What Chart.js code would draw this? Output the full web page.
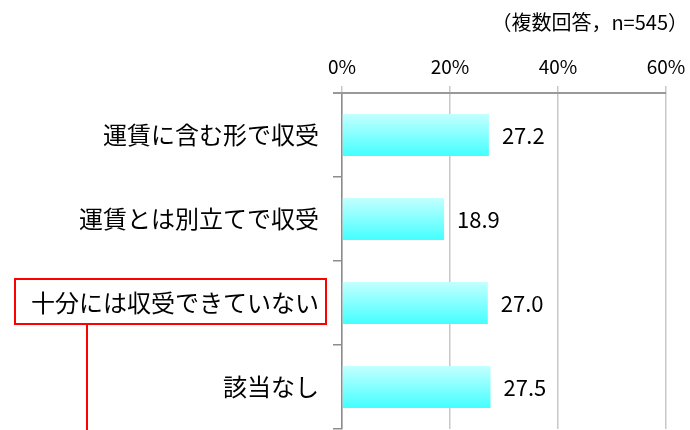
<!DOCTYPE html>
<html>
<head>
<meta charset="utf-8">
<script src="https://cdn.jsdelivr.net/npm/chart.js@4/dist/chart.umd.min.js"></script>
<style>
html,body{margin:0;padding:0;background:#fff;}
#wrap{position:relative;width:690px;height:430px;}
</style>
</head>
<body>
<div id="wrap"><canvas id="c" width="690" height="430"></canvas></div>
<script>
const categories = ['運賃に含む形で収受', '運賃とは別立てで収受', '十分には収受できていない', '該当なし'];
const values = [27.2, 18.9, 27.0, 27.5];
const xTicks = [0, 20, 40, 60];
const note = '（複数回答，n=545）';
const highlightIndex = 2;

const FONT = '"Noto Sans CJK JP", "Noto Sans", sans-serif';
const BAR_PCT = 0.5;

function barGradient(ctx) {
  const chart = ctx.chart;
  const ys = chart.scales.y;
  if (!ys || !chart.chartArea || ctx.dataIndex === undefined) return '#80ffff';
  const c = ys.getPixelForValue(ctx.dataIndex);
  const h = ys.height / categories.length * BAR_PCT;
  const g = chart.ctx.createLinearGradient(0, c - h / 2, 0, c + h / 2);
  g.addColorStop(0, '#c4ffff');
  g.addColorStop(1, '#44ffff');
  return g;
}

const labelPlugin = {
  id: 'vals',
  afterDatasetsDraw(chart) {
    const ctx = chart.ctx;
    ctx.save();
    ctx.font = '22px ' + FONT;
    ctx.fillStyle = '#000';
    ctx.textBaseline = 'middle';
    ctx.textAlign = 'left';
    chart.getDatasetMeta(0).data.forEach((el, i) => {
      ctx.fillText(values[i].toFixed(1), el.x + 13, el.y + 1);
    });
    ctx.restore();
  },
  afterDraw(chart) {
    const ctx = chart.ctx;
    const area = chart.chartArea;
    ctx.save();
    ctx.strokeStyle = '#999999';
    ctx.lineWidth = 2;
    ctx.beginPath();
    ctx.moveTo(Math.round(area.left) - 9, Math.round(area.top));
    ctx.lineTo(Math.round(area.right), Math.round(area.top));
    ctx.stroke();
    ctx.font = '20px ' + FONT;
    ctx.fillStyle = '#000';
    ctx.textAlign = 'right';
    ctx.textBaseline = 'middle';
    ctx.fillText(note, 688, 22);
    const ys = chart.scales.y;
    const cy = ys.getPixelForValue(highlightIndex) - 1.5;
    ctx.strokeStyle = '#ff0000';
    ctx.lineWidth = 2;
    ctx.strokeRect(15, cy - 22.5, 311, 45);
    ctx.beginPath();
    ctx.moveTo(87, cy + 22.5);
    ctx.lineTo(87, 430);
    ctx.stroke();
    ctx.restore();
  }
};

new Chart(document.getElementById('c'), {
  type: 'bar',
  data: {
    labels: categories,
    datasets: [{
      data: values,
      backgroundColor: barGradient,
      borderWidth: 0,
      categoryPercentage: 1.0,
      barPercentage: BAR_PCT
    }]
  },
  options: {
    indexAxis: 'y',
    responsive: false,
    animation: false,
    layout: { padding: { left: 0, right: 24, top: 0, bottom: 1 } },
    plugins: { legend: { display: false }, tooltip: { enabled: false } },
    scales: {
      x: {
        position: 'top',
        min: 0, max: 60,
        afterBuildTicks(scale) { scale.ticks = xTicks.map(v => ({ value: v })); },
        afterFit(scale) { scale.height = 93; scale.paddingLeft = 0; scale.paddingRight = 0; scale.paddingTop = 0; scale.paddingBottom = 0; },
        ticks: {
          callback: v => v + '%',
          font: { family: FONT, size: 19 },
          color: '#000',
          padding: 8,
          maxRotation: 0
        },
        grid: { color: '#c8c8c8', lineWidth: 1.5, tickLength: 7 },
        border: { color: '#a6a6a6', width: 1.5 }
      },
      y: {
        afterFit(scale) { scale.width = 342; scale.paddingTop = 0; scale.paddingBottom = 0; scale.paddingLeft = 0; scale.paddingRight = 0; },
        ticks: {
          font: { family: FONT, size: 24 },
          color: '#000',
          padding: 14
        },
        grid: { drawOnChartArea: false, color: '#8c8c8c', lineWidth: 1.5, tickLength: 9 },
        border: { color: '#8c8c8c', width: 1.5 }
      }
    }
  },
  plugins: [labelPlugin]
});
</script>
</body>
</html>
